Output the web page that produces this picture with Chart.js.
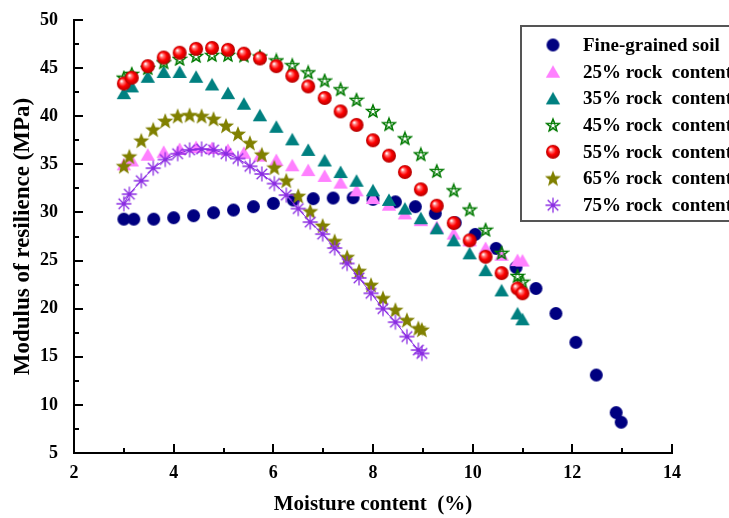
<!DOCTYPE html>
<html>
<head>
<meta charset="utf-8">
<script src="https://cdn.jsdelivr.net/npm/chart.js@4.4.1/dist/chart.umd.min.js"></script>
<style>
  html, body { margin: 0; padding: 0; background: #fff; }
</style>
</head>
<body>
<canvas id="chart" width="729" height="518"></canvas>
<script>
// --- Data (moisture content %, modulus of resilience MPa) ---
const fineX = [3.0, 3.2, 3.6, 4.0, 4.4, 4.8, 5.2, 5.6, 6.0, 6.4, 6.8, 7.2, 7.6, 8.0, 8.45, 8.85, 9.25, 9.65, 10.05, 10.47, 10.87, 11.27, 11.67, 12.07, 12.48, 12.88, 12.98]
const fineY = [29.3, 29.3, 29.3, 29.45, 29.66, 29.97, 30.25, 30.6, 30.94, 31.29, 31.43, 31.5, 31.53, 31.36, 31.1, 30.6, 29.9, 28.93, 27.72, 26.26, 24.29, 22.1, 19.5, 16.5, 13.1, 9.2, 8.2]

const rockX = [3.0, 3.16, 3.48, 3.8, 4.12, 4.45, 4.77, 5.09, 5.41, 5.73, 6.06, 6.38, 6.7, 7.03, 7.35, 7.67, 8.0, 8.32, 8.64, 8.96, 9.28, 9.62, 9.94, 10.26, 10.58, 10.9, 11.0]
const rock25Y = [35.0, 35.4, 36.0, 36.3, 36.6, 36.8, 36.7, 36.5, 36.2, 35.9, 35.45, 34.9, 34.4, 33.8, 33.1, 32.3, 31.5, 30.8, 29.9, 29.2, 28.5, 27.8, 27.1, 26.3, 25.6, 25.05, 25.0]
const rock35Y = [42.4, 43.1, 44.1, 44.6, 44.6, 44.1, 43.3, 42.4, 41.3, 40.1, 38.9, 37.6, 36.5, 35.4, 34.2, 33.3, 32.3, 31.3, 30.4, 29.4, 28.35, 27.1, 25.75, 24.0, 21.9, 19.5, 18.9]
const rock45Y = [44.0, 44.4, 45.0, 45.6, 45.95, 46.26, 46.36, 46.36, 46.3, 46.2, 45.8, 45.3, 44.56, 43.7, 42.8, 41.7, 40.54, 39.16, 37.7, 36.04, 34.3, 32.3, 30.3, 28.2, 25.8, 23.4, 22.8]
const rock55Y = [43.4, 44.0, 45.2, 46.1, 46.6, 47.0, 47.1, 46.9, 46.5, 46.0, 45.2, 44.2, 43.1, 41.9, 40.5, 39.1, 37.5, 35.9, 34.2, 32.4, 30.7, 28.9, 27.1, 25.4, 23.7, 22.1, 21.6]

const rockFineX = [3.0, 3.11, 3.35, 3.59, 3.83, 4.08, 4.32, 4.56, 4.8, 5.05, 5.29, 5.53, 5.77, 6.02, 6.26, 6.5, 6.74, 6.99, 7.23, 7.48, 7.72, 7.96, 8.2, 8.45, 8.68, 8.91, 8.98]
const rock65Y = [34.8, 35.8, 37.45, 38.6, 39.5, 40.0, 40.1, 40.0, 39.7, 39.0, 38.15, 37.2, 36.0, 34.65, 33.3, 31.7, 30.1, 28.6, 27.0, 25.35, 23.9, 22.45, 21.07, 19.85, 18.8, 17.95, 17.8]
const rock75Y = [30.9, 31.9, 33.3, 34.6, 35.5, 36.1, 36.5, 36.6, 36.5, 36.1, 35.6, 34.8, 34.0, 33.0, 31.8, 30.4, 29.0, 27.75, 26.3, 24.7, 23.2, 21.6, 20.0, 18.6, 17.1, 15.7, 15.35]

const seriesLabels = ['Fine-grained soil', '25% rock  content', '35% rock  content', '45% rock  content',
  '55% rock  content', '65% rock  content', '75% rock  content']

const xTicks = [2, 4, 6, 8, 10, 12, 14]
const yTicks = [5, 10, 15, 20, 25, 30, 35, 40, 45, 50]

// --- Marker images ---
function makeMarker(size, draw) {
  const c = document.createElement('canvas')
  c.width = size
  c.height = size
  draw(c.getContext('2d'), size / 2)
  return c
}

function starPath(g, c, ro, ri) {
  g.beginPath()
  for (let i = 0; i < 10; i++) {
    const r = i % 2 === 0 ? ro : ri
    const a = -Math.PI / 2 + i * Math.PI / 5
    const px = c + r * Math.cos(a)
    const py = c + 0.5 + r * Math.sin(a)
    if (i === 0) g.moveTo(px, py)
    else g.lineTo(px, py)
  }
  g.closePath()
}

const circleNavy = makeMarker(15, (g, c) => {
  g.fillStyle = '#000080'
  g.beginPath()
  g.arc(c, c, 6.5, 0, Math.PI * 2)
  g.fill()
})

function triangle(color) {
  return makeMarker(16, (g, c) => {
    g.fillStyle = color
    g.beginPath()
    g.moveTo(c, c - 6.5)
    g.lineTo(c + 7.2, c + 6)
    g.lineTo(c - 7.2, c + 6)
    g.closePath()
    g.fill()
  })
}
const triPink = triangle('#ff80ff')
const triTeal = triangle('#008080')

const starOpen = makeMarker(16, (g, c) => {
  g.strokeStyle = '#007a00'
  g.lineWidth = 1.4
  starPath(g, c, 6.6, 2.9)
  g.stroke()
  // inner pentagram lines
  g.beginPath()
  for (let k = 0; k < 6; k++) {
    const i = (k * 2) % 5
    const a = -Math.PI / 2 + i * 2 * Math.PI / 5
    const px = c + 6.6 * Math.cos(a)
    const py = c + 0.5 + 6.6 * Math.sin(a)
    if (k === 0) g.moveTo(px, py)
    else g.lineTo(px, py)
  }
  g.lineWidth = 1
  g.stroke()
})

const sphereRed = makeMarker(16, (g, c) => {
  const grad = g.createRadialGradient(c - 2.5, c - 2.5, 0.5, c, c, 7)
  grad.addColorStop(0, '#ffffff')
  grad.addColorStop(0.2, '#ff8080')
  grad.addColorStop(0.55, '#ff0000')
  grad.addColorStop(1, '#b00000')
  g.fillStyle = grad
  g.beginPath()
  g.arc(c, c, 7, 0, Math.PI * 2)
  g.fill()
})

const starOlive = makeMarker(18, (g, c) => {
  g.fillStyle = '#808000'
  starPath(g, c, 8.5, 3.6)
  g.fill()
})

const asterisk = makeMarker(18, (g, c) => {
  g.strokeStyle = '#8a2be2'
  g.lineWidth = 1.3
  g.beginPath()
  for (let i = 0; i < 4; i++) {
    const a = i * Math.PI / 4
    g.moveTo(c - 7.5 * Math.cos(a), c - 7.5 * Math.sin(a))
    g.lineTo(c + 7.5 * Math.cos(a), c + 7.5 * Math.sin(a))
  }
  g.stroke()
})

const markers = [circleNavy, triPink, triTeal, starOpen, sphereRed, starOlive, asterisk]

function pts(xs, ys) {
  return xs.map((x, i) => ({ x: x, y: ys[i] }))
}

const seriesData = [
  pts(fineX, fineY),
  pts(rockX, rock25Y),
  pts(rockX, rock35Y),
  pts(rockX, rock45Y),
  pts(rockX, rock55Y),
  pts(rockFineX, rock65Y),
  pts(rockFineX, rock75Y)
]

const datasets = seriesData.map((d, i) => ({
  label: seriesLabels[i],
  data: d,
  pointStyle: markers[i],
  pointRadius: 7,
  showLine: i === 6,
  borderColor: '#8a2be2',
  borderWidth: 1,
  order: 6 - i
}))

const FONT = "'Liberation Serif', 'Times New Roman', serif"

// --- Plugins ---
const whiteBg = {
  id: 'whiteBg',
  beforeDraw(chart) {
    const ctx = chart.ctx
    ctx.save()
    ctx.fillStyle = '#fff'
    ctx.fillRect(0, 0, chart.width, chart.height)
    ctx.restore()
  }
}

// inward major/minor tick marks
const innerTicks = {
  id: 'innerTicks',
  afterDraw(chart) {
    const ctx = chart.ctx
    const xs = chart.scales.x
    const ys = chart.scales.y
    const area = chart.chartArea
    ctx.save()
    ctx.strokeStyle = '#000'
    ctx.lineWidth = 2
    ctx.beginPath()
    for (let v = 3; v <= 14; v += 1) {
      const px = Math.round(xs.getPixelForValue(v))
      const len = v % 2 === 0 ? 9 : 5
      ctx.moveTo(px, area.bottom)
      ctx.lineTo(px, area.bottom - len)
    }
    for (let v = 7.5; v <= 50; v += 2.5) {
      const py = Math.round(ys.getPixelForValue(v))
      const len = v % 5 === 0 ? 9 : 5
      ctx.moveTo(area.left, py)
      ctx.lineTo(area.left + len, py)
    }
    ctx.stroke()
    ctx.restore()
  }
}

const boxLegend = {
  id: 'boxLegend',
  afterDraw(chart) {
    const ctx = chart.ctx
    const left = 521, top = 26, bottom = 221
    ctx.save()
    ctx.fillStyle = '#fff'
    ctx.fillRect(left, top, 240, bottom - top)
    ctx.strokeStyle = '#555'
    ctx.lineWidth = 2
    ctx.strokeRect(left, top, 240, bottom - top)
    ctx.font = 'bold 19px ' + FONT
    ctx.fillStyle = '#000'
    ctx.textBaseline = 'middle'
    chart.data.datasets.forEach((ds, i) => {
      const y = 45 + i * 26.7
      const m = ds.pointStyle
      ctx.drawImage(m, 553 - m.width / 2, y - m.height / 2)
      ctx.fillText(ds.label, 583, y + 1)
    })
    ctx.restore()
  }
}

new Chart(document.getElementById('chart'), {
  type: 'scatter',
  data: { datasets: datasets },
  options: {
    responsive: false,
    animation: false,
    layout: { padding: { top: 20, right: 57, left: 0, bottom: 0 } },
    plugins: {
      legend: { display: false },
      tooltip: { enabled: false }
    },
    scales: {
      x: {
        type: 'linear',
        min: 2,
        max: 14,
        afterBuildTicks: (s) => { s.ticks = xTicks.map(v => ({ value: v })) },
        afterFit: (s) => { s.height = 65 },
        grid: { display: false, drawTicks: false },
        border: { display: true, color: '#000', width: 2 },
        ticks: {
          color: '#000',
          padding: 10,
          font: { family: FONT, size: 18, weight: 'bold' }
        },
        title: {
          display: true,
          text: 'Moisture content  (%)',
          color: '#000',
          padding: { top: 0, bottom: 1 },
          font: { family: FONT, size: 21, weight: 'bold' }
        }
      },
      y: {
        type: 'linear',
        min: 5,
        max: 50,
        afterBuildTicks: (s) => { s.ticks = yTicks.map(v => ({ value: v })) },
        afterFit: (s) => {
          s.width = 74
          s.paddingTop = 0
          s.paddingBottom = 0
        },
        grid: { display: false, drawTicks: false },
        border: { display: true, color: '#000', width: 2 },
        ticks: {
          color: '#000',
          padding: 16,
          font: { family: FONT, size: 18, weight: 'bold' }
        },
        title: {
          display: true,
          text: 'Modulus of resilience (MPa)',
          color: '#000',
          padding: { top: 9, bottom: 0 },
          font: { family: FONT, size: 23, weight: 'bold' }
        }
      }
    }
  },
  plugins: [whiteBg, innerTicks, boxLegend]
})
</script>
</body>
</html>
